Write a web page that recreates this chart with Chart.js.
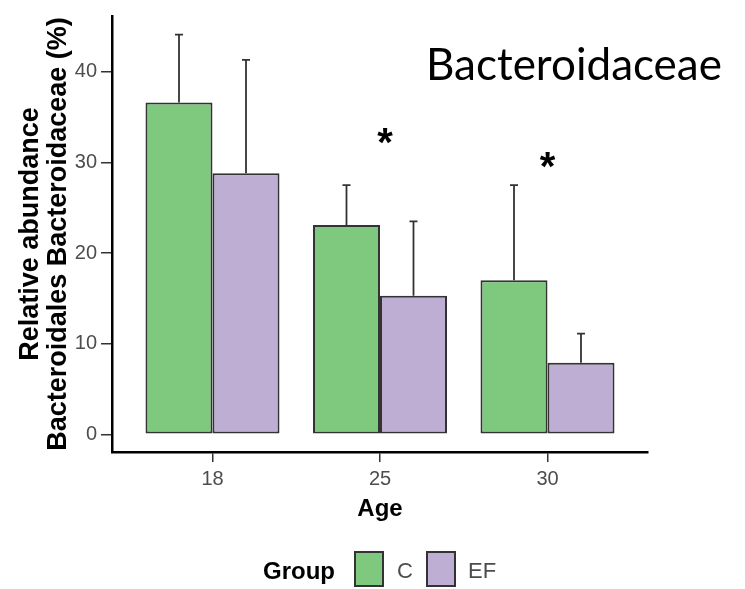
<!DOCTYPE html>
<html>
<head>
<meta charset="utf-8">
<script src="https://cdn.jsdelivr.net/npm/chart.js@4"></script>
<style>
  html, body { margin: 0; padding: 0; background: #fff; }
  .canvas-container { position: relative; width: 745px; height: 589px; }
</style>
</head>
<body>
<div class="canvas-container">
  <canvas id="chart"></canvas>
</div>
<script>
const ages = ["18", "25", "30"];
const groups = ["C", "EF"];
const cMeans = [36.6, 23.1, 17.0];
const efMeans = [28.8, 15.3, 7.9];
const cUpper = [44.1, 27.5, 27.5];
const efUpper = [41.3, 23.5, 11.1];
const sigX = [1.03, 2.0];
const sigY = [32.8, 30.2];
const yTicks = [0, 10, 20, 30, 40];

const colors = ["#7FC97F", "#BEAED4"];

// upper error bars, ggplot style
const errorBars = {
  id: "errorBars",
  afterDatasetsDraw(chart) {
    const ctx = chart.ctx;
    const y = chart.scales.y;
    ctx.save();
    ctx.strokeStyle = "#333";
    ctx.lineWidth = 1.8;
    chart.data.datasets.forEach((ds, di) => {
      const meta = chart.getDatasetMeta(di);
      meta.data.forEach((bar, i) => {
        const top = y.getPixelForValue(ds.upper[i]);
        ctx.beginPath();
        ctx.moveTo(bar.x, bar.y);
        ctx.lineTo(bar.x, top);
        ctx.moveTo(bar.x - 4, top);
        ctx.lineTo(bar.x + 4, top);
        ctx.stroke();
      });
    });
    ctx.restore();
  },
};

const extras = {
  id: "extras",
  afterDraw(chart) {
    const ctx = chart.ctx;
    const { x, y } = chart.scales;
    ctx.save();
    // significance marks
    ctx.fillStyle = "#000";
    ctx.font = "bold 40px 'Liberation Sans', Arial, sans-serif";
    ctx.textAlign = "center";
    ctx.textBaseline = "middle";
    for (let i = 0; i < sigX.length; i++) {
      ctx.fillText("*", x.getPixelForValue(sigX[i]), y.getPixelForValue(sigY[i]) + 8);
    }
    // big panel label
    ctx.font = "44px Lato, 'Open Sans', sans-serif";
    ctx.textAlign = "left";
    ctx.textBaseline = "alphabetic";
    ctx.fillText("Bacteroidaceae", 426, 80, 298);

    // legend
    ctx.textBaseline = "middle";
    ctx.font = "bold 24px 'Liberation Sans', Arial, sans-serif";
    ctx.fillStyle = "#000";
    ctx.fillText("Group", 263, 572);
    const boxX = [355, 427];
    const textX = [397, 468];
    ctx.lineWidth = 2;
    ctx.strokeStyle = "#333";
    for (let i = 0; i < groups.length; i++) {
      ctx.fillStyle = colors[i];
      ctx.fillRect(boxX[i], 552, 28, 34);
      ctx.strokeRect(boxX[i], 552, 28, 34);
      ctx.fillStyle = "#4D4D4D";
      ctx.font = "22px 'Liberation Sans', Arial, sans-serif";
      ctx.fillText(groups[i], textX[i], 572);
    }
    ctx.restore();
  },
};

const ctx = document.getElementById("chart");
new Chart(ctx, {
  type: "bar",
  data: {
    datasets: [
      {
        label: groups[0],
        data: ages.map((a, i) => ({ x: i, y: cMeans[i] })),
        upper: cUpper,
        backgroundColor: colors[0],
      },
      {
        label: groups[1],
        data: ages.map((a, i) => ({ x: i, y: efMeans[i] })),
        upper: efUpper,
        backgroundColor: colors[1],
      },
    ],
  },
  options: {
    responsive: true,
    maintainAspectRatio: false,
    animation: false,
    layout: {
      padding: { left: 0, right: 97, top: 14, bottom: 0 },
    },
    datasets: {
      bar: {
        categoryPercentage: 0.8,
        barPercentage: 1.0,
        borderColor: "#333",
        borderWidth: 2,
        borderSkipped: false,
      },
    },
    scales: {
      x: {
        type: "linear",
        min: -0.6,
        max: 2.6,
        offset: false,
        afterFit(scale) {
          scale.height = 137;
        },
        ticks: {
          stepSize: 1,
          includeBounds: false,
          padding: 5,
          color: "#4D4D4D",
          font: { family: "'Liberation Sans', Arial, sans-serif", size: 20 },
          callback: (v) => ages[v],
        },
        grid: {
          offset: false,
          drawOnChartArea: false,
          tickLength: 10,
          color: "#333",
          lineWidth: 1.5,
        },
        border: { display: true, color: "#000", width: 2.5 },
        title: {
          display: true,
          text: "Age",
          color: "#000",
          font: { family: "'Liberation Sans', Arial, sans-serif", size: 24, weight: "bold" },
          padding: { top: 0, bottom: 65 },
        },
      },
      y: {
        min: -1.95,
        max: 46.15,
        afterFit(scale) {
          scale.width = 112;
        },
        afterBuildTicks(scale) {
          scale.ticks = yTicks.map((v) => ({ value: v }));
        },
        ticks: {
          padding: 4,
          color: "#4D4D4D",
          font: { family: "'Liberation Sans', Arial, sans-serif", size: 20 },
        },
        grid: {
          drawOnChartArea: false,
          tickLength: 11,
          color: "#333",
          lineWidth: 1.5,
        },
        border: { display: true, color: "#000", width: 2.5 },
        title: {
          display: true,
          text: ["Relative abundance", "Bacteroidales Bacteroidaceae (%)"],
          color: "#000",
          font: { family: "'Liberation Sans', Arial, sans-serif", size: 27, weight: "bold", lineHeight: "28px" },
          padding: { top: 17, bottom: 0 },
        },
      },
    },
    plugins: {
      legend: { display: false },
      tooltip: { enabled: false },
    },
  },
  plugins: [errorBars, extras],
});
</script>
</body>
</html>
